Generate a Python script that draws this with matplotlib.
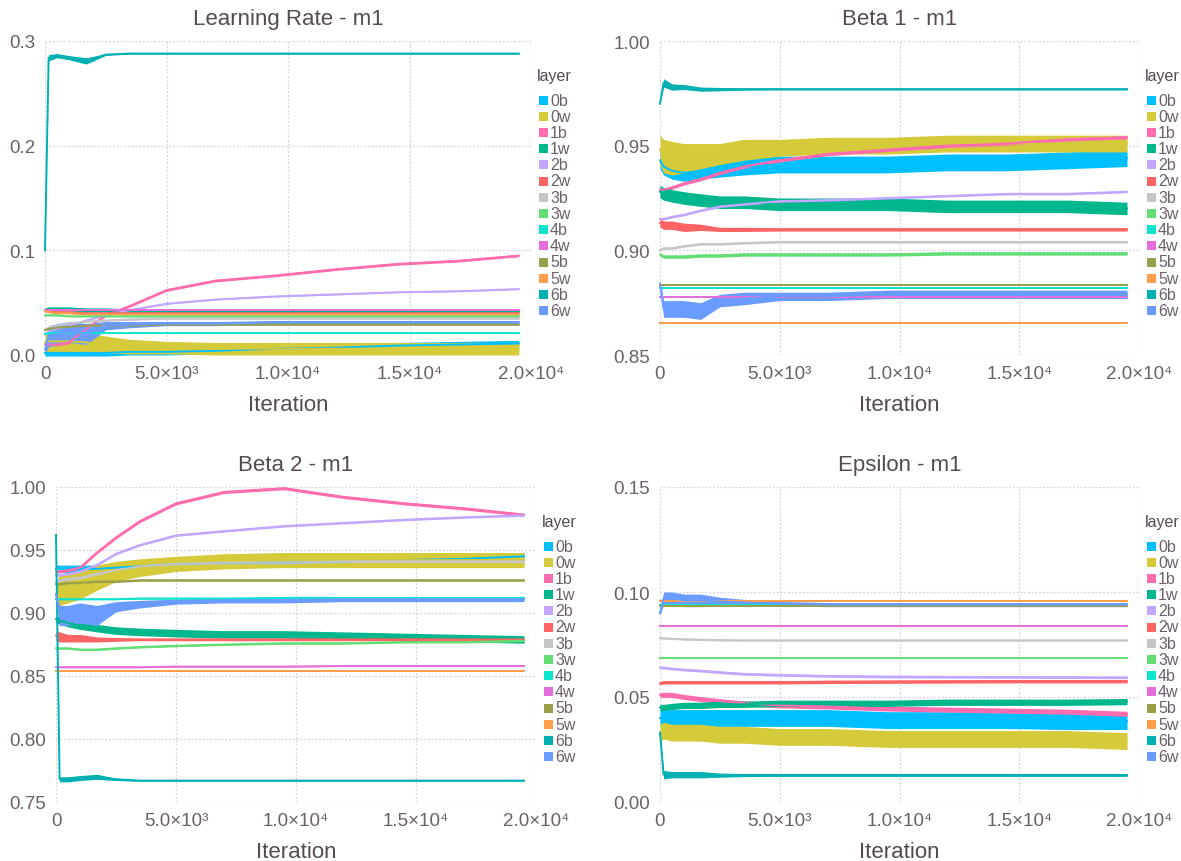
import numpy as np
import matplotlib
matplotlib.use("Agg")
import matplotlib.pyplot as plt
from matplotlib.patches import Rectangle

plt.rcParams['font.family'] = ['Liberation Sans', 'DejaVu Sans']

W, H = 1181, 862

LAYERS = ["0b", "0w", "1b", "1w", "2b", "2w", "3b", "3w", "4b", "4w", "5b", "5w", "6b", "6w"]
COLORS = ["#00BFFF", "#D4CA3A", "#FF6DAE", "#00B78D", "#C2A6FF", "#FF6464",
          "#C6C6C6", "#62DE74", "#0CE5CD", "#E46FDC", "#9AA04A", "#FF9D4B",
          "#00B0B3", "#6A9CFF"]

ITER = [0, 150, 500, 1000, 1700, 2500, 3500, 5000, 7000, 9500, 12000, 14500, 17000, 19500]

# ---- Learning Rate ----
LR = {
    "0b": [0.002, 0.002, 0.002, 0.002, 0.002, 0.002, 0.003, 0.003, 0.004, 0.006, 0.007, 0.009, 0.010, 0.011],
    "0w": [0.012, 0.013, 0.013, 0.013, 0.012, 0.010, 0.008, 0.007, 0.006, 0.006, 0.006, 0.006, 0.006, 0.006],
    "1b": [0.010, 0.010, 0.010, 0.012, 0.025, 0.038, 0.047, 0.062, 0.071, 0.076, 0.082, 0.087, 0.090, 0.095],
    "1w": [0.043, 0.044, 0.044, 0.044, 0.043, 0.043, 0.042, 0.042, 0.042, 0.042, 0.042, 0.042, 0.042, 0.042],
    "2b": [0.020, 0.022, 0.025, 0.028, 0.033, 0.038, 0.043, 0.049, 0.053, 0.056, 0.058, 0.060, 0.061, 0.063],
    "2w": [0.042, 0.042, 0.041, 0.041, 0.040, 0.040, 0.040, 0.040, 0.040, 0.040, 0.040, 0.040, 0.040, 0.040],
    "3b": [0.024, 0.026, 0.028, 0.030, 0.032, 0.033, 0.034, 0.035, 0.035, 0.035, 0.035, 0.035, 0.035, 0.035],
    "3w": [0.038, 0.038, 0.038, 0.037, 0.037, 0.037, 0.037, 0.037, 0.037, 0.037, 0.037, 0.037, 0.037, 0.037],
    "4b": [0.020, 0.021, 0.021, 0.021, 0.021, 0.021, 0.021, 0.021, 0.021, 0.021, 0.021, 0.021, 0.021, 0.021],
    "4w": [0.043, 0.043, 0.043, 0.043, 0.043, 0.043, 0.043, 0.043, 0.043, 0.043, 0.043, 0.043, 0.043, 0.043],
    "5b": [0.024, 0.025, 0.026, 0.027, 0.028, 0.028, 0.028, 0.029, 0.029, 0.029, 0.029, 0.029, 0.029, 0.029],
    "5w": [0.042, 0.041, 0.040, 0.040, 0.039, 0.039, 0.039, 0.039, 0.039, 0.039, 0.039, 0.039, 0.039, 0.039],
    "6b": [0.100, 0.284, 0.286, 0.284, 0.281, 0.287, 0.288, 0.288, 0.288, 0.288, 0.288, 0.288, 0.288, 0.288],
    "6w": [0.005, 0.018, 0.020, 0.022, 0.020, 0.028, 0.029, 0.030, 0.030, 0.031, 0.031, 0.031, 0.031, 0.031],
}
LR_NOISE = {
    "0b": 0.003, "0w": [0.010, 0.010, 0.010, 0.010, 0.010, 0.008, 0.007, 0.006, 0.006, 0.006, 0.006, 0.006, 0.006, 0.006],
    "1b": 0.0012, "1w": 0.002, "2b": 0.0006, "2w": 0.0006, "3b": 0.0008, "3w": 0.0006,
    "4b": 0.0005, "4w": 0.0006, "5b": 0.0006, "5w": 0.0006,
    "6b": [0.0, 0.003, 0.002, 0.002, 0.003, 0.0008, 0.0005, 0.0005, 0.0005, 0.0005, 0.0005, 0.0005, 0.0005, 0.0005],
    "6w": [0.004, 0.010, 0.010, 0.010, 0.010, 0.004, 0.003, 0.002, 0.002, 0.002, 0.002, 0.002, 0.002, 0.002],
}

# ---- Beta 1 ----
B1 = {
    "0b": [0.943, 0.940, 0.938, 0.937, 0.938, 0.939, 0.940, 0.941, 0.941, 0.941, 0.942, 0.942, 0.943, 0.944],
    "0w": [0.948, 0.945, 0.944, 0.944, 0.945, 0.946, 0.948, 0.949, 0.950, 0.950, 0.951, 0.951, 0.951, 0.951],
    "1b": [0.929, 0.929, 0.930, 0.932, 0.934, 0.937, 0.940, 0.943, 0.946, 0.948, 0.950, 0.951, 0.953, 0.954],
    "1w": [0.928, 0.927, 0.926, 0.925, 0.924, 0.923, 0.923, 0.922, 0.922, 0.922, 0.921, 0.921, 0.921, 0.920],
    "2b": [0.915, 0.915, 0.916, 0.917, 0.919, 0.921, 0.922, 0.9235, 0.924, 0.925, 0.926, 0.927, 0.927, 0.928],
    "2w": [0.913, 0.912, 0.912, 0.911, 0.911, 0.910, 0.910, 0.910, 0.910, 0.910, 0.910, 0.910, 0.910, 0.910],
    "3b": [0.900, 0.901, 0.901, 0.902, 0.903, 0.903, 0.9035, 0.904, 0.904, 0.904, 0.904, 0.904, 0.904, 0.904],
    "3w": [0.898, 0.897, 0.897, 0.897, 0.8975, 0.8975, 0.898, 0.898, 0.898, 0.898, 0.8985, 0.8985, 0.8985, 0.8985],
    "4b": [0.882, 0.882, 0.882, 0.882, 0.882, 0.882, 0.882, 0.882, 0.882, 0.882, 0.882, 0.882, 0.882, 0.882],
    "4w": [0.8778, 0.8778, 0.8778, 0.8778, 0.8778, 0.8778, 0.8778, 0.8778, 0.8778, 0.8778, 0.8778, 0.8778, 0.8778, 0.8778],
    "5b": [0.8835, 0.8835, 0.8835, 0.8835, 0.8835, 0.8835, 0.8835, 0.8835, 0.8835, 0.8835, 0.8835, 0.8835, 0.8835, 0.8835],
    "5w": [0.8655, 0.8655, 0.8655, 0.8655, 0.8655, 0.8655, 0.8655, 0.8655, 0.8655, 0.8655, 0.8655, 0.8655, 0.8655, 0.8655],
    "6b": [0.970, 0.980, 0.978, 0.978, 0.977, 0.977, 0.977, 0.977, 0.977, 0.977, 0.977, 0.977, 0.977, 0.977],
    "6w": [0.884, 0.872, 0.872, 0.872, 0.871, 0.876, 0.877, 0.878, 0.878, 0.879, 0.879, 0.879, 0.879, 0.879],
}
B1_NOISE = {
    "0b": 0.004, "0w": [0.007, 0.008, 0.008, 0.007, 0.006, 0.005, 0.005, 0.004, 0.004, 0.004, 0.004, 0.004, 0.004, 0.004],
    "1b": 0.0008, "1w": 0.003, "2b": 0.0005, "2w": [0.002, 0.002, 0.002, 0.002, 0.0015, 0.001, 0.001, 0.0008, 0.0008, 0.0008, 0.0008, 0.0008, 0.0008, 0.0008],
    "3b": 0.0005, "3w": 0.0008, "4b": 0.0003, "4w": 0.0003, "5b": 0.0006, "5w": 0.0004,
    "6b": [0.0, 0.002, 0.0015, 0.0012, 0.001, 0.0008, 0.0005, 0.0004, 0.0004, 0.0004, 0.0004, 0.0004, 0.0004, 0.0004],
    "6w": [0.002, 0.004, 0.004, 0.004, 0.004, 0.003, 0.003, 0.002, 0.002, 0.002, 0.002, 0.002, 0.002, 0.002],
}

# ---- Beta 2 ----
B2 = {
    "0b": [0.935, 0.935, 0.935, 0.935, 0.935, 0.936, 0.937, 0.939, 0.940, 0.940, 0.941, 0.942, 0.943, 0.945],
    "0w": [0.915, 0.918, 0.920, 0.922, 0.928, 0.933, 0.936, 0.939, 0.941, 0.942, 0.942, 0.942, 0.942, 0.942],
    "1b": [0.933, 0.933, 0.934, 0.936, 0.948, 0.960, 0.973, 0.987, 0.996, 0.999, 0.992, 0.987, 0.983, 0.978],
    "1w": [0.895, 0.894, 0.892, 0.890, 0.888, 0.886, 0.885, 0.884, 0.883, 0.883, 0.882, 0.881, 0.880, 0.879],
    "2b": [0.930, 0.930, 0.931, 0.933, 0.938, 0.947, 0.954, 0.9616, 0.965, 0.969, 0.9715, 0.974, 0.976, 0.9775],
    "2w": [0.882, 0.881, 0.880, 0.880, 0.879, 0.879, 0.879, 0.879, 0.879, 0.879, 0.879, 0.879, 0.879, 0.879],
    "3b": [0.925, 0.926, 0.927, 0.928, 0.931, 0.934, 0.937, 0.939, 0.940, 0.940, 0.941, 0.941, 0.941, 0.941],
    "3w": [0.872, 0.872, 0.872, 0.871, 0.871, 0.872, 0.873, 0.874, 0.875, 0.876, 0.876, 0.877, 0.877, 0.878],
    "4b": [0.911, 0.911, 0.911, 0.911, 0.911, 0.911, 0.9115, 0.9115, 0.9115, 0.912, 0.912, 0.912, 0.912, 0.912],
    "4w": [0.857, 0.857, 0.857, 0.857, 0.857, 0.857, 0.857, 0.8575, 0.8575, 0.8575, 0.858, 0.858, 0.858, 0.858],
    "5b": [0.923, 0.923, 0.924, 0.924, 0.925, 0.925, 0.926, 0.926, 0.926, 0.926, 0.926, 0.926, 0.926, 0.926],
    "5w": [0.854, 0.854, 0.854, 0.854, 0.854, 0.854, 0.854, 0.854, 0.854, 0.854, 0.854, 0.854, 0.854, 0.854],
    "6b": [0.962, 0.768, 0.768, 0.769, 0.770, 0.768, 0.767, 0.767, 0.767, 0.767, 0.767, 0.767, 0.767, 0.767],
    "6w": [0.915, 0.898, 0.898, 0.900, 0.898, 0.905, 0.907, 0.909, 0.910, 0.910, 0.911, 0.911, 0.911, 0.911],
}
B2_NOISE = {
    "0b": 0.003, "0w": [0.010, 0.012, 0.012, 0.011, 0.010, 0.008, 0.007, 0.006, 0.006, 0.006, 0.006, 0.006, 0.006, 0.006],
    "1b": 0.0012, "1w": 0.003, "2b": 0.0008,
    "2w": [0.004, 0.004, 0.003, 0.003, 0.002, 0.0015, 0.001, 0.001, 0.001, 0.001, 0.001, 0.001, 0.001, 0.001],
    "3b": 0.001, "3w": 0.0008, "4b": 0.0005, "4w": 0.0005, "5b": 0.0008, "5w": 0.0005,
    "6b": [0.0, 0.002, 0.002, 0.002, 0.002, 0.001, 0.0005, 0.0005, 0.0005, 0.0005, 0.0005, 0.0005, 0.0005, 0.0005],
    "6w": [0.002, 0.008, 0.008, 0.008, 0.008, 0.004, 0.003, 0.002, 0.002, 0.002, 0.002, 0.002, 0.002, 0.002],
}

# ---- Epsilon ----
EPS = {
    "0b": [0.040, 0.040, 0.040, 0.040, 0.040, 0.040, 0.040, 0.040, 0.040, 0.039, 0.039, 0.039, 0.0385, 0.0385],
    "0w": [0.033, 0.034, 0.033, 0.033, 0.033, 0.032, 0.032, 0.031, 0.031, 0.030, 0.030, 0.030, 0.030, 0.029],
    "1b": [0.051, 0.051, 0.051, 0.050, 0.049, 0.048, 0.047, 0.046, 0.0455, 0.0445, 0.044, 0.0435, 0.043, 0.042],
    "1w": [0.045, 0.045, 0.0455, 0.046, 0.046, 0.0465, 0.0465, 0.047, 0.047, 0.047, 0.0475, 0.0475, 0.0475, 0.0478],
    "2b": [0.064, 0.064, 0.0635, 0.063, 0.0625, 0.0618, 0.061, 0.0605, 0.060, 0.0597, 0.0596, 0.0595, 0.0594, 0.0593],
    "2w": [0.0565, 0.057, 0.057, 0.057, 0.057, 0.057, 0.057, 0.057, 0.0572, 0.0573, 0.0574, 0.0575, 0.0575, 0.0575],
    "3b": [0.078, 0.078, 0.0778, 0.0775, 0.0773, 0.0771, 0.077, 0.077, 0.077, 0.077, 0.077, 0.077, 0.077, 0.077],
    "3w": [0.0685, 0.0685, 0.0685, 0.0685, 0.0685, 0.0685, 0.0685, 0.0685, 0.0685, 0.0685, 0.0685, 0.0685, 0.0685, 0.0685],
    "4b": [0.0938, 0.0938, 0.0938, 0.0938, 0.0938, 0.0938, 0.0938, 0.0938, 0.0938, 0.0938, 0.0938, 0.0938, 0.0938, 0.0938],
    "4w": [0.084, 0.084, 0.084, 0.084, 0.084, 0.084, 0.084, 0.084, 0.084, 0.084, 0.084, 0.084, 0.084, 0.084],
    "5b": [0.0935, 0.0935, 0.0935, 0.0935, 0.0935, 0.0935, 0.0935, 0.0935, 0.0935, 0.0935, 0.0935, 0.0935, 0.0935, 0.0935],
    "5w": [0.0956, 0.0956, 0.0956, 0.0956, 0.0956, 0.0956, 0.0956, 0.0956, 0.0956, 0.0956, 0.0956, 0.0956, 0.0956, 0.0956],
    "6b": [0.033, 0.013, 0.013, 0.013, 0.013, 0.0128, 0.0128, 0.0128, 0.0128, 0.0128, 0.0128, 0.0128, 0.0128, 0.0128],
    "6w": [0.090, 0.097, 0.097, 0.096, 0.096, 0.0955, 0.095, 0.0945, 0.094, 0.094, 0.094, 0.094, 0.094, 0.094],
}
EPS_NOISE = {
    "0b": 0.004, "0w": 0.004, "1b": 0.0012, "1w": 0.0015, "2b": 0.0006, "2w": 0.0008,
    "3b": 0.0004, "3w": 0.0004, "4b": 0.0003, "4w": 0.0004, "5b": 0.0004, "5w": 0.0004,
    "6b": [0.0, 0.002, 0.0015, 0.0015, 0.0015, 0.001, 0.0007, 0.0006, 0.0006, 0.0006, 0.0006, 0.0006, 0.0006, 0.0006],
    "6w": [0.001, 0.003, 0.003, 0.003, 0.003, 0.002, 0.0015, 0.001, 0.001, 0.001, 0.001, 0.001, 0.001, 0.001],
}

XTICKS = [0, 5000, 10000, 15000, 20000]
XTICKLABELS = ["0", "5.0×10³", "1.0×10⁴", "1.5×10⁴", "2.0×10⁴"]

TICK_C = "#6c606b"
LABEL_C = "#564a55"
GRID_C = "#D3D3E3"

# (title, data, noise, yticks, ytick labels, axes box in px: left, top, right, bottom)
PANELS = [
    ("Learning Rate - m1", LR, LR_NOISE, [0.0, 0.1, 0.2, 0.3], ["0.0", "0.1", "0.2", "0.3"], (45, 42, 531, 356)),
    ("Beta 1 - m1", B1, B1_NOISE, [0.85, 0.90, 0.95, 1.00], ["0.85", "0.90", "0.95", "1.00"], (660, 42, 1139, 356)),
    ("Beta 2 - m1", B2, B2_NOISE, [0.75, 0.80, 0.85, 0.90, 0.95, 1.00],
     ["0.75", "0.80", "0.85", "0.90", "0.95", "1.00"], (56, 488, 536, 803)),
    ("Epsilon - m1", EPS, EPS_NOISE, [0.00, 0.05, 0.10, 0.15], ["0.00", "0.05", "0.10", "0.15"], (660, 488, 1139, 803)),
]

fig = plt.figure(figsize=(W / 100, H / 100), dpi=100)

for title, data, noise, yt, ytl, box in PANELS:
    l, t, r, b = box
    ax = fig.add_axes([l / W, 1 - b / H, (r - l) / W, (b - t) / H])
    for name, col in zip(LAYERS, COLORS):
        m = np.array(data[name])
        s = np.broadcast_to(np.array(noise.get(name, 0.0)), m.shape)
        ax.fill_between(ITER, m - s, m + s, color=col, lw=0, clip_on=False)
        ax.plot(ITER, m, color=col, lw=1.4, clip_on=False, solid_joinstyle="round")
    ax.set_xlim(0, 20000)
    ax.set_ylim(yt[0], yt[-1])
    ax.set_xticks(XTICKS)
    ax.set_xticklabels(XTICKLABELS)
    ax.set_yticks(yt)
    ax.set_yticklabels(ytl)
    ax.tick_params(length=0, labelsize=13.5, labelcolor=TICK_C, pad=7)
    for sp in ax.spines.values():
        sp.set_visible(False)
    ax.grid(True, color=GRID_C, linestyle=(0, (1.5, 1.5)), lw=0.9)
    ax.set_axisbelow(True)
    ax.set_xlabel("Iteration", fontsize=16, color=LABEL_C, labelpad=9)
    ax.set_title(title, fontsize=16, color=LABEL_C, pad=12)

    # legend block to the right of the panel
    lx = min(r + 8, W - 34)
    ty = t + 34
    fig.text((lx - 2) / W, 1 - ty / H, "layer", fontsize=11.5, color=LABEL_C, va="center", ha="left")
    for i, (name, col) in enumerate(zip(LAYERS, COLORS)):
        cy = ty + 25 + i * 16.2
        fig.patches.append(Rectangle((lx / W, 1 - (cy + 4.5) / H), 9 / W, 9 / H,
                                     transform=fig.transFigure, color=col, lw=0))
        fig.text((lx + 11) / W, 1 - cy / H, name, fontsize=11.5, color=TICK_C, va="center", ha="left")

fig.savefig("out.png", dpi=100)
